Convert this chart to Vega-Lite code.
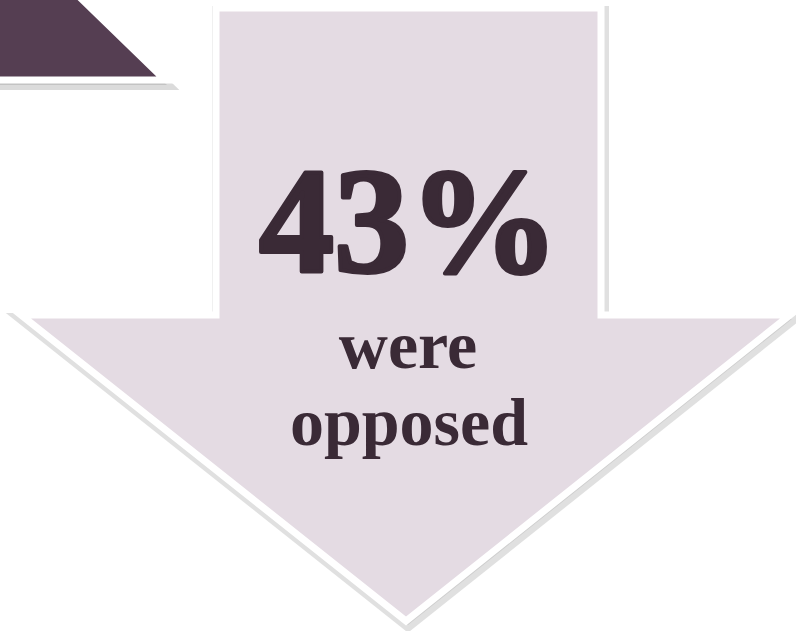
{
  "$schema": "https://vega.github.io/schema/vega-lite/v6.json",
  "width": 796,
  "height": 631,
  "autosize": {"type": "fit", "contains": "padding"},
  "padding": 0,
  "background": "#ffffff",
  "view": {"stroke": null},
  "datasets": {
    "darkShape": [
      {"i": 0, "x": -20, "y": -20},
      {"i": 1, "x": 62, "y": -20},
      {"i": 2, "x": 165, "y": 80},
      {"i": 3, "x": -20, "y": 80}
    ],
    "arrow": [
      {"i": 0, "x": 216, "y": 8},
      {"i": 1, "x": 601, "y": 8},
      {"i": 2, "x": 601, "y": 315},
      {"i": 3, "x": 790, "y": 315},
      {"i": 4, "x": 406, "y": 621},
      {"i": 5, "x": 21, "y": 315},
      {"i": 6, "x": 216, "y": 315}
    ],
    "bigLabel": [
      {"x": 409, "y": 272, "text": "43%"}
    ],
    "smallLabels": [
      {"x": 408, "y": 368, "text": "were"},
      {"x": 409, "y": 445, "text": "opposed"}
    ]
  },
  "encoding": {
    "x": {"field": "x", "type": "quantitative", "scale": {"domain": [0, 796], "nice": false, "zero": false}, "axis": null},
    "y": {"field": "y", "type": "quantitative", "scale": {"domain": [0, 631], "nice": false, "zero": false, "reverse": true}, "axis": null}
  },
  "layer": [
    {
      "data": {"name": "darkShape"},
      "mark": {"type": "line", "interpolate": "linear-closed", "fill": "#999999", "fillOpacity": 0.35, "stroke": "#999999", "strokeOpacity": 0.35, "strokeWidth": 10, "xOffset": 2, "yOffset": 5, "clip": true},
      "encoding": {"order": {"field": "i", "type": "quantitative"}}
    },
    {
      "data": {"name": "darkShape"},
      "mark": {"type": "line", "interpolate": "linear-closed", "fill": "#553e52", "stroke": "#ffffff", "strokeWidth": 7, "strokeJoin": "miter", "clip": true},
      "encoding": {"order": {"field": "i", "type": "quantitative"}}
    },
    {
      "data": {"name": "arrow"},
      "mark": {"type": "line", "interpolate": "linear-closed", "fill": "#aaaaaa", "fillOpacity": 0.3, "stroke": "#999999", "strokeOpacity": 0.3, "strokeWidth": 12, "strokeJoin": "miter", "xOffset": 2, "yOffset": 4, "clip": true},
      "encoding": {"order": {"field": "i", "type": "quantitative"}}
    },
    {
      "data": {"name": "arrow"},
      "mark": {"type": "line", "interpolate": "linear-closed", "fill": "#e4dbe3", "stroke": "#ffffff", "strokeWidth": 7, "strokeJoin": "miter", "clip": true},
      "encoding": {"order": {"field": "i", "type": "quantitative"}}
    },
    {
      "data": {"name": "bigLabel"},
      "mark": {"type": "text", "align": "center", "baseline": "alphabetic", "font": "Liberation Serif", "fontWeight": "bold", "fontSize": 150, "fill": "#3a2a36", "stroke": "#3a2a36", "strokeWidth": 4, "strokeJoin": "round"},
      "encoding": {"text": {"field": "text", "type": "nominal"}}
    },
    {
      "data": {"name": "smallLabels"},
      "mark": {"type": "text", "align": "center", "baseline": "alphabetic", "font": "Liberation Serif", "fontWeight": "bold", "fontSize": 68, "fill": "#3a2a36"},
      "encoding": {"text": {"field": "text", "type": "nominal"}}
    }
  ]
}
